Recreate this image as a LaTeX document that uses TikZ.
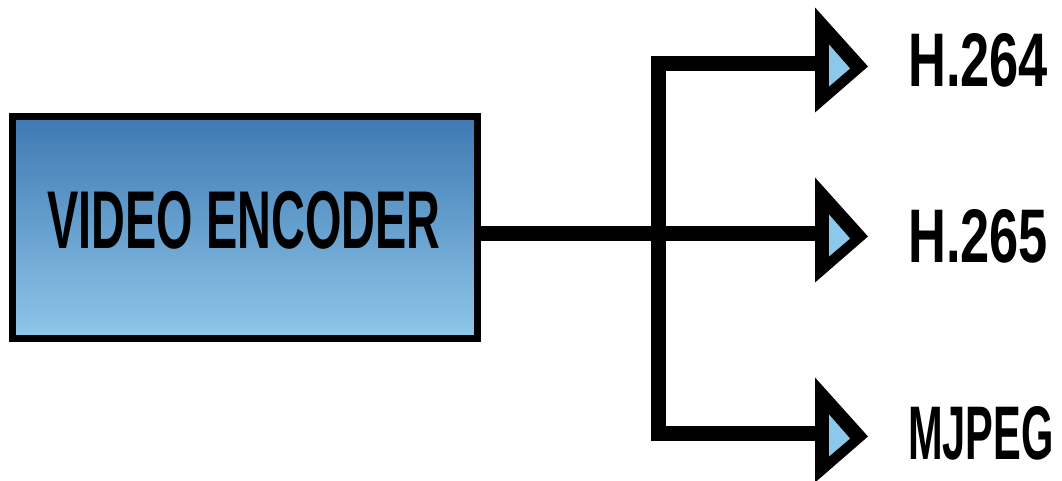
\documentclass[tikz,border=0pt]{standalone}
\usepackage{fontspec}
\newfontfamily\labelfont{Liberation Sans}
\definecolor{boxtop}{RGB}{62,121,178}
\definecolor{boxbottom}{RGB}{143,199,233}
\definecolor{tipfill}{RGB}{140,200,235}
\tikzset{
  wire/.style={line width=15pt, line join=miter, line cap=butt},
  encbox/.style={draw=black, line width=7pt, rectangle, top color=boxtop,
    bottom color=boxbottom, minimum width=465pt, minimum height=221.5pt,
    inner sep=0pt},
  tag/.style={inner sep=0pt, anchor=base west},
  headtip/.pic={
    \fill[black] (0,56) -- (0,-49) -- (53,-3) -- cycle;
    \fill[tipfill] (14,19) -- (14,-23) -- (35,-5) -- cycle;
  }
}
\begin{document}
\begin{tikzpicture}[x=1pt,y=1pt]
  \useasboundingbox (0,0) rectangle (1062,481);
  % encoder block
  \node[encbox] (enc) at (245,253.25) {};
  \node[inner sep=0pt, anchor=base] (enctext) at (244,232)
    {\labelfont\bfseries\fontsize{82}{84}\selectfont\scalebox{0.571}[1]{VIDEO ENCODER}};
  % branch end points
  \coordinate (outA) at (815,417.5);
  \coordinate (outB) at (815,247.5);
  \coordinate (outC) at (815,47.5);
  \coordinate (split) at (658.5,247.5);
  % wires
  \draw[wire] (enc.east |- outB) -- (outB);
  \draw[wire] (outA) -- (split |- outA) -- (split |- outC) -- (outC);
  % arrow heads
  \pic at (outA) {headtip};
  \pic at (outB) {headtip};
  \pic at (outC) {headtip};
  % output formats
  \node[tag] (fmtA) at (908,394)
    {\labelfont\bfseries\fontsize{76}{78}\selectfont\scalebox{0.69}[1]{H.264}};
  \node[tag] (fmtB) at (908,218)
    {\labelfont\bfseries\fontsize{76}{78}\selectfont\scalebox{0.69}[1]{H.265}};
  \node[tag] (fmtC) at (908,21)
    {\labelfont\bfseries\fontsize{76}{78}\selectfont\scalebox{0.547}[1]{MJPEG}};
\end{tikzpicture}
\end{document}
